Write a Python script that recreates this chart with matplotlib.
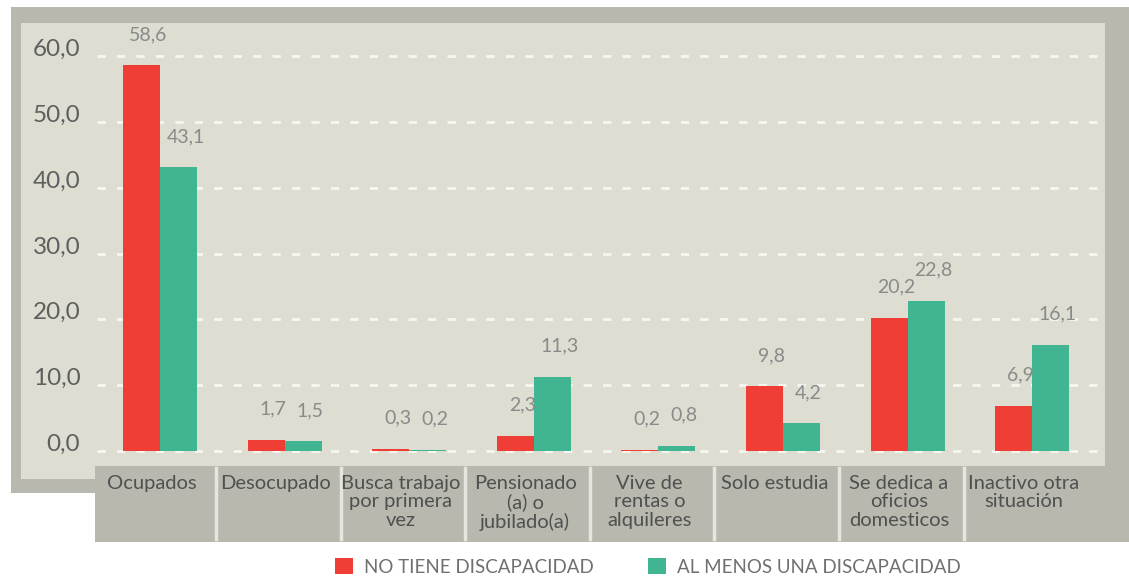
import matplotlib.pyplot as plt
import matplotlib.patches as mpatches
import matplotlib.transforms as mtransforms
import numpy as np

categories = ['Ocupados', 'Desocupado', 'Busca trabajo\npor primera\nvez',
              'Pensionado\n(a) o\njubilado(a)', 'Vive de\nrentas o\nalquileres',
              'Solo estudia', 'Se dedica a\noficios\ndomesticos',
              'Inactivo otra\nsituación']
sin_discapacidad = [58.6, 1.7, 0.3, 2.3, 0.2, 9.8, 20.2, 6.9]
con_discapacidad = [43.1, 1.5, 0.2, 11.3, 0.8, 4.2, 22.8, 16.1]
series_names = ['NO TIENE DISCAPACIDAD', 'AL MENOS UNA DISCAPACIDAD']
yticks = [0, 10, 20, 30, 40, 50, 60]

RED = '#ef3e36'
GREEN = '#41b592'
FRAME = '#b8b8af'
PANEL = '#ddddd1'

plt.rcParams['font.family'] = ['Lato', 'DejaVu Sans']

W, H = 1129, 578
fig = plt.figure(figsize=(W / 100, H / 100), dpi=100)


def px_rect(x0, y0, x1, y1, color, z):
    # rectangle given in pixel coords (origin top-left)
    fig.patches.append(mpatches.Rectangle((x0 / W, 1 - y1 / H), (x1 - x0) / W, (y1 - y0) / H,
                                          transform=fig.transFigure, color=color, zorder=z, lw=0))


# background frame, inner panel and the category band
px_rect(11, 7, W, 493, FRAME, -3)
px_rect(21, 23, 1105, 479, PANEL, -2)
px_rect(95, 466, W, 542, FRAME, -1)

ax = fig.add_axes([97 / W, 1 - 466 / H, (1098 - 97) / W, (466 - 23) / H])
ax.set_zorder(5)
ax.set_facecolor('none')
for s in ax.spines.values():
    s.set_visible(False)

x = np.arange(len(categories))
w = 0.297
ax.bar(x - w / 2, sin_discapacidad, w, color=RED, zorder=3, label=series_names[0])
ax.bar(x + w / 2, con_discapacidad, w, color=GREEN, zorder=3, label=series_names[1])

ax.set_xlim(-0.506, 7.528)
ax.set_ylim(-2.28, 65.02)
ax.set_xticks([])
ax.set_yticks(yticks, [f'{t:.1f}'.replace('.', ',') for t in yticks])
ax.tick_params(axis='y', length=0, pad=12, labelsize=17.5, labelcolor='#5f5f5f')
for lbl in ax.get_yticklabels():
    lbl.set_va('baseline')
ax.yaxis.grid(True, color='#f7f7f2', linewidth=2, linestyle=(0, (3, 4)))
ax.set_axisbelow(True)

# value labels above the bars
for xs, vals in [(x - w / 2, sin_discapacidad), (x + w / 2, con_discapacidad)]:
    for xi, v in zip(xs, vals):
        ax.annotate(f'{v:.1f}'.replace('.', ','), (xi, v), xytext=(5, 16),
                    textcoords='offset points', ha='center', va='bottom',
                    fontsize=14, color='#8a8a8a')

# category band: labels and dividers
band = mtransforms.blended_transform_factory(ax.transData, fig.transFigure)
for xi, name in zip(x, categories):
    ax.text(xi - 0.07, 1 - 475 / H, name, transform=band, ha='center', va='top',
            fontsize=14.5, color='#505050', linespacing=1.1, clip_on=False)
for xi in x[:-1]:
    ax.plot([xi + 0.45, xi + 0.45], [1 - 468 / H, 1 - 539 / H], transform=band,
            color='#e6e6df', linewidth=2.5, clip_on=False)

fig.legend(loc='center', bbox_to_anchor=(648 / W, 1 - 567 / H), ncol=2, frameon=False,
           fontsize=13.5, labelcolor='#707070', handlelength=0.95, handleheight=0.95,
           handletextpad=0.6, columnspacing=2.9)

fig.savefig('out.png', dpi=100)
